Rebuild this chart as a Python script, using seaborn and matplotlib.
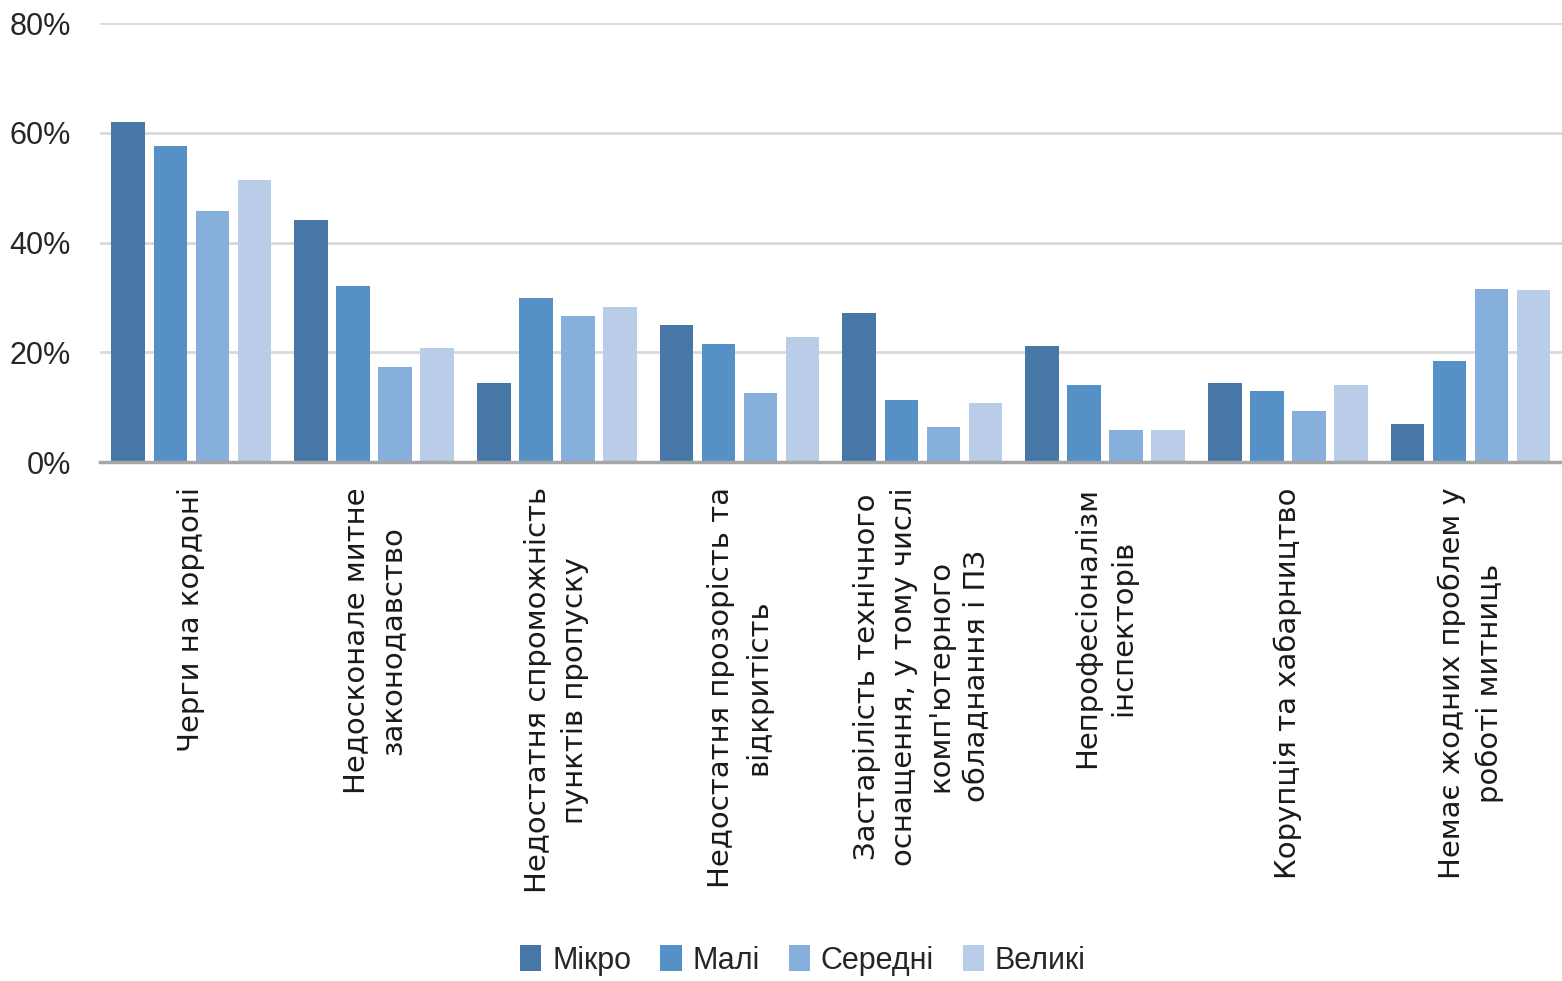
import seaborn as sns
import matplotlib.pyplot as plt
import pandas as pd

# Problems in customs work, share of firms by size
categories = [
    "Черги на кордоні",
    "Недосконале митне\nзаконодавство",
    "Недостатня спроможність\nпунктів пропуску",
    "Недостатня прозорість та\nвідкритість",
    "Застарілість технічного\nоснащення, у тому числі\nкомп'ютерного\nобладнання і ПЗ",
    "Непрофесіоналізм\nінспекторів",
    "Корупція та хабарництво",
    "Немає жодних проблем у\nроботі митниць",
]
sizes = ["Мікро", "Малі", "Середні", "Великі"]
micro = [62.0, 44.1, 14.4, 25.0, 27.1, 21.1, 14.4, 6.9]
small = [57.6, 32.1, 29.9, 21.5, 11.3, 14.0, 12.9, 18.4]
medium = [45.7, 17.3, 26.6, 12.6, 6.4, 5.8, 9.3, 31.5]
large = [51.4, 20.8, 28.2, 22.8, 10.7, 5.8, 14.0, 31.3]
colors = ["#4677a7", "#5591c7", "#86afdc", "#b9cde8"]

rows = []
for size, vals in zip(sizes, [micro, small, medium, large]):
    for cat, v in zip(categories, vals):
        rows.append((cat, size, v))
df = pd.DataFrame(rows, columns=["Проблема", "Розмір", "Частка"])

sns.set_style("white")
plt.rcParams["font.family"] = ["Liberation Sans", "DejaVu Sans"]

fig = plt.figure(figsize=(15.62, 9.81), dpi=100)
ax = fig.add_axes([0.064, 0.529, 0.936, 0.4475])

sns.barplot(data=df, x="Проблема", y="Частка", hue="Розмір", order=categories,
            hue_order=sizes, palette=colors, width=0.92, gap=0.2,
            linewidth=0, saturation=1, ax=ax, legend=True)

ax.set_ylim(0, 80)
ax.set_xlim(-0.5, 7.5)
ax.set_yticks([0, 20, 40, 60, 80])
ax.set_yticklabels(["0%", "20%", "40%", "60%", "80%"], fontsize=22, color="#262626")
ax.yaxis.grid(True, color="#d9d9d9", linewidth=2)
ax.set_axisbelow(True)
ax.set_xlabel("")
ax.set_ylabel("")
for s in ["left", "right", "top"]:
    ax.spines[s].set_visible(False)
ax.spines["bottom"].set_color("#a6a6a6")
ax.spines["bottom"].set_linewidth(2.5)
ax.tick_params(axis="both", length=0)
ax.tick_params(axis="y", pad=21)
ax.tick_params(axis="x", pad=18)
for lbl in ax.get_xticklabels():
    lbl.set_rotation(90)
    lbl.set_fontfamily(["DejaVu Sans"])
    lbl.set_fontsize(21)
    lbl.set_linespacing(1.4)
    lbl.set_ha("center")
    lbl.set_va("top")
    lbl.set_color("#1a1a1a")

handles, labels = ax.get_legend_handles_labels()
ax.get_legend().remove()
fig.legend(handles, labels, loc="center", bbox_to_anchor=(0.514, 0.021), ncol=4,
           frameon=False, fontsize=22, handlelength=0.7, handleheight=0.9,
           handletextpad=0.35, columnspacing=0.95)

fig.savefig("out.png", dpi=100)
